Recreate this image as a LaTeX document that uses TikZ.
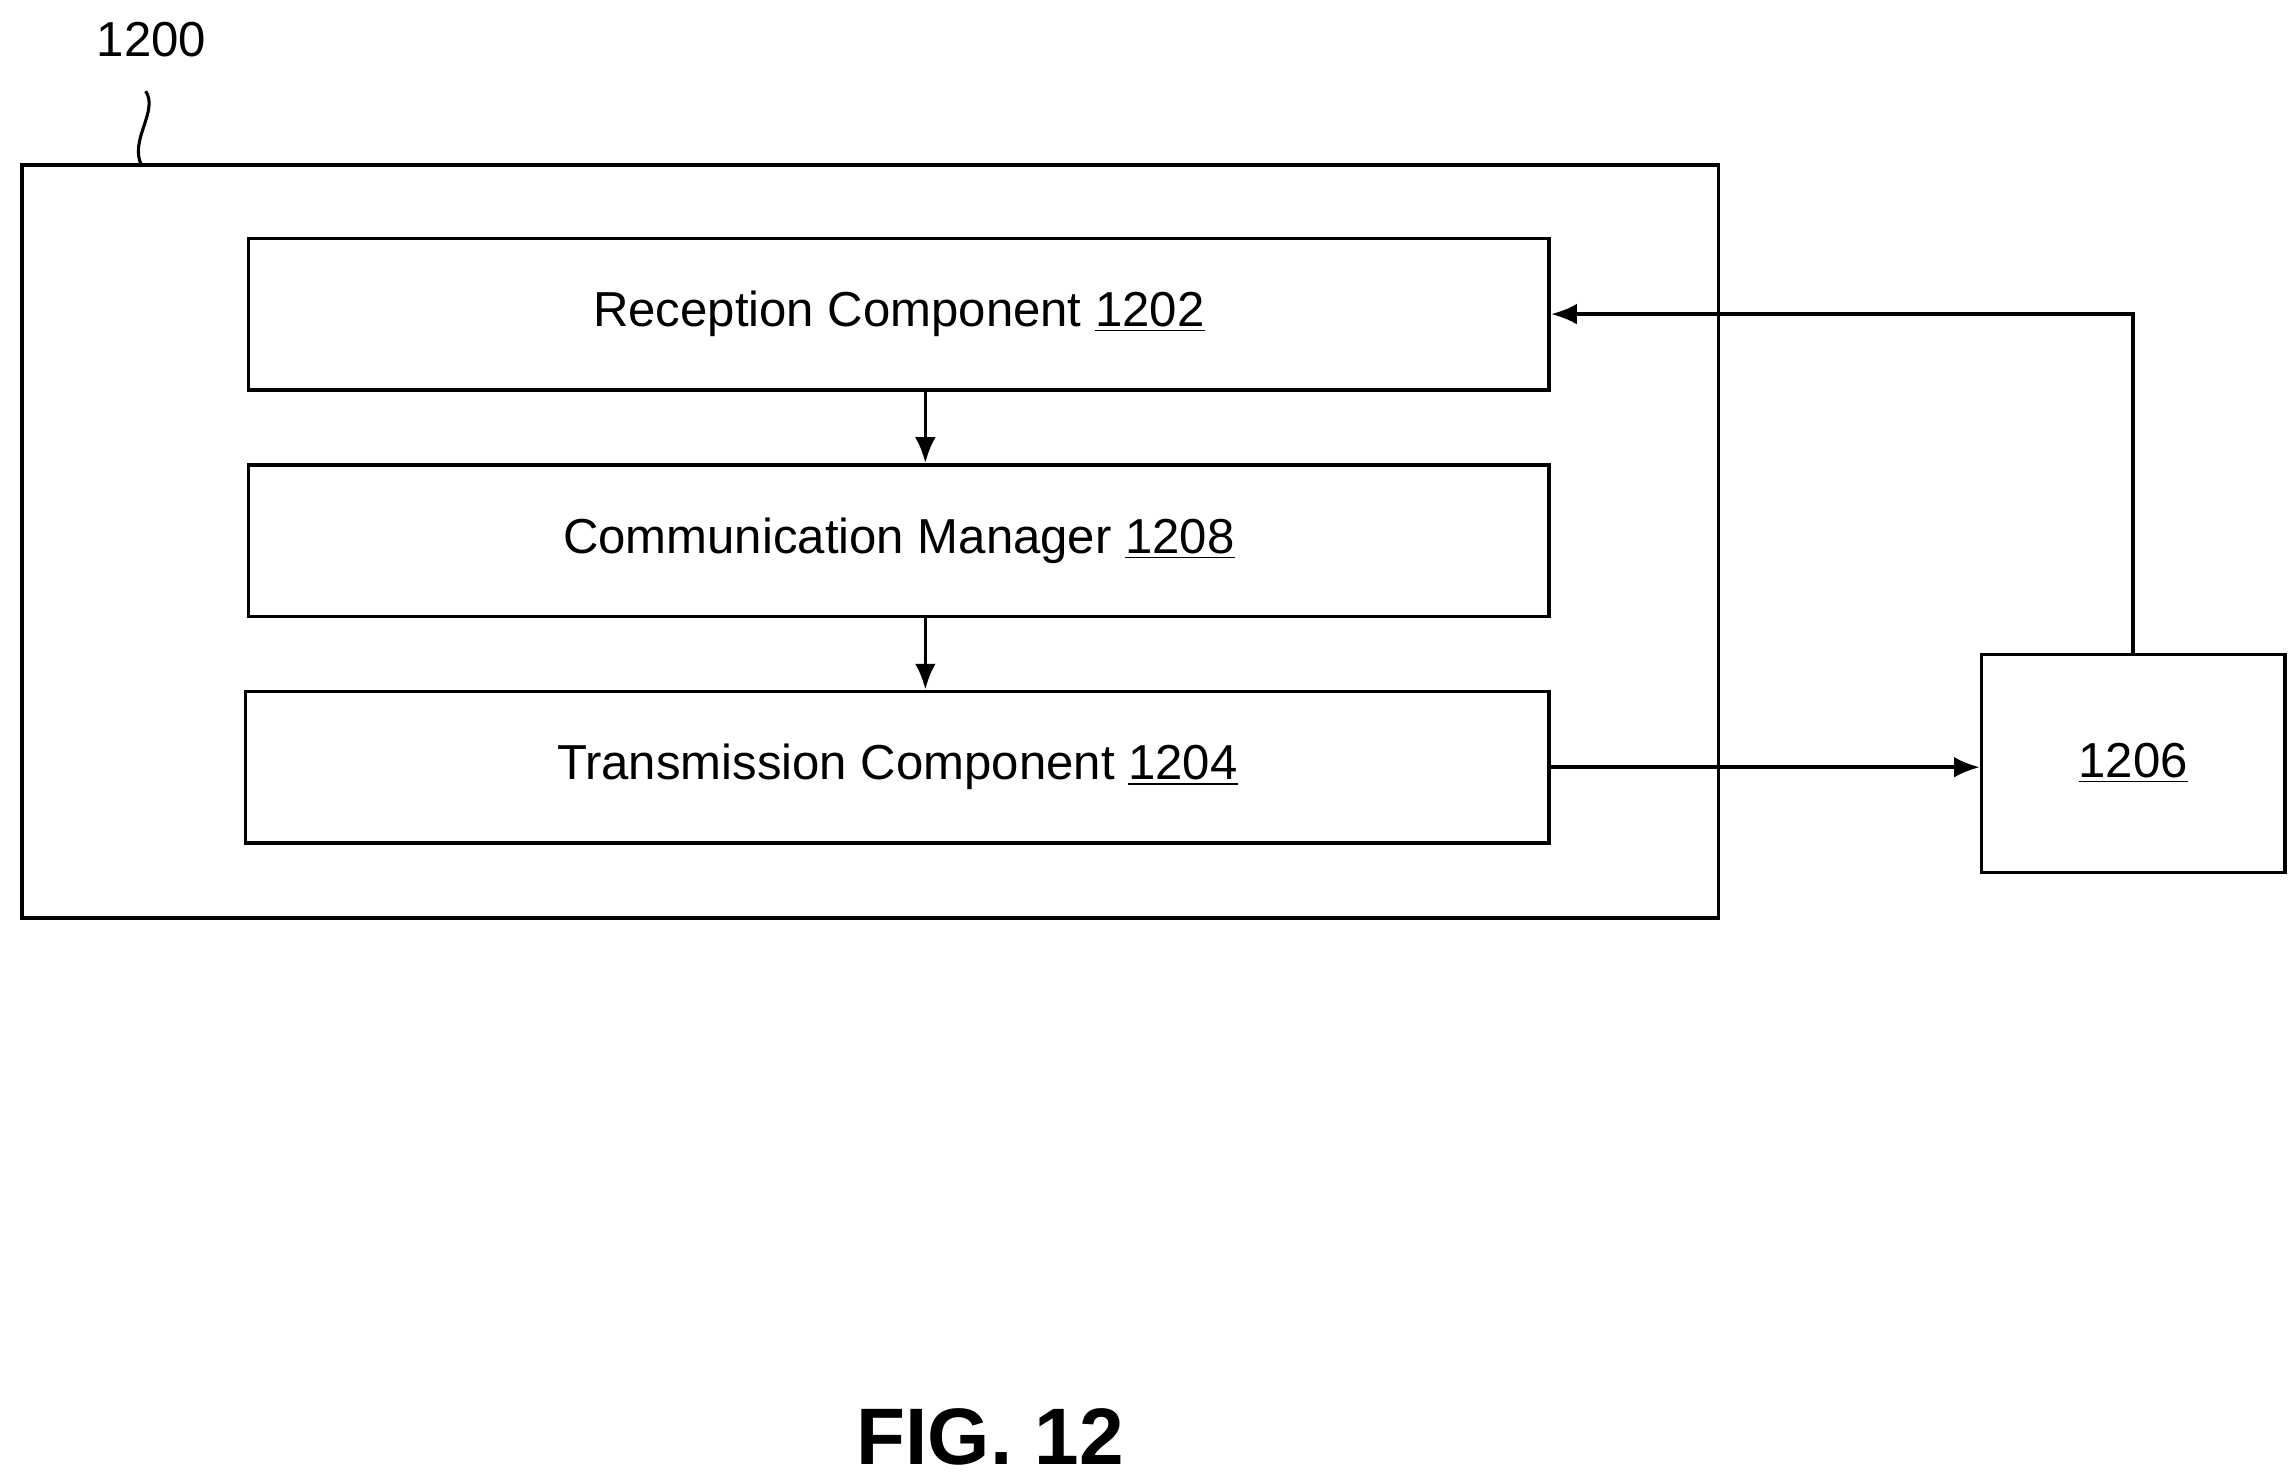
\documentclass[tikz,border=0pt]{standalone}
\usepackage{fontspec}
\setmainfont{Liberation Sans}
\usetikzlibrary{arrows.meta}
\begin{document}
\begin{tikzpicture}[x=0.02cm,y=-0.02cm,line width=1.4pt,
  box/.style={draw,rectangle,inner sep=0pt},
  lbl/.style={font=\fontsize{19}{22}\selectfont},
  arr/.style={-{Latex[length=10pt,width=8pt]}}]
\useasboundingbox (0,0) rectangle (1560,1005);
\node[box,minimum width=1153*0.02cm,minimum height=512*0.02cm] (outer) at (591.5,368) {};
\node[box,minimum width=884*0.02cm,minimum height=103*0.02cm,lbl] (rc) at (611,213.5) {Reception Component \underline{1202}};
\node[box,minimum width=884*0.02cm,minimum height=103*0.02cm,lbl] (cm) at (611,367.5) {Communication Manager \underline{1208}};
\node[box,minimum width=886*0.02cm,minimum height=103*0.02cm,lbl] (tc) at (610,521.5) {Transmission Component \underline{1204}};
\node[box,minimum width=206*0.02cm,minimum height=148*0.02cm,lbl] (ext) at (1450,519) {\underline{1206}};
\node[lbl] (n1200) at (103,27) {1200};
\coordinate (sq) at (99,62);
\draw[line width=1.2pt] (sq) .. controls (108,75) and (88,95) .. (96,112);
\draw[arr] (rc.south -| 629,0) -- (cm.north -| 629,0);
\draw[arr] (cm.south -| 629,0) -- (tc.north -| 629,0);
\draw[arr] (tc.east) -- (tc.east -| ext.west);
\draw[arr] (ext.north) |- (rc.east);
\node[font=\bfseries\fontsize{31}{36}\selectfont] (fig) at (673,977) {FIG. 12};
\end{tikzpicture}
\end{document}
